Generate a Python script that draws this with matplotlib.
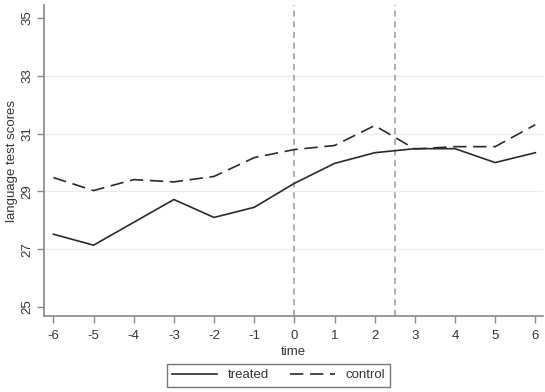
import matplotlib.pyplot as plt

plt.rcParams['font.family'] = ['Liberation Sans', 'DejaVu Sans']

# Mean language test scores by period relative to treatment
time = [-6, -5, -4, -3, -2, -1, 0, 1, 2, 3, 4, 5, 6]
treated = [27.52, 27.14, 27.93, 28.72, 28.10, 28.45, 29.28, 29.97, 30.34, 30.48, 30.48, 30.00, 30.34]
control = [29.48, 29.03, 29.41, 29.33, 29.52, 30.17, 30.45, 30.59, 31.28, 30.47, 30.55, 30.55, 31.31]
event_lines = [0, 2.5]
yticks = [25, 27, 29, 31, 33, 35]

fig = plt.figure(figsize=(5.45, 3.92), dpi=100)
ax = fig.add_axes([0.081, 0.194, 0.916, 0.793])

for y in yticks[1:-1]:
    ax.axhline(y, color='#ececec', lw=0.8, zorder=0)
for x in event_lines:
    ax.axvline(x, color='#999999', lw=1.1, ls=(0, (4, 3)), zorder=1)

ax.plot(time, treated, color='#2a2a2a', lw=1.2, label='treated', zorder=3)
ax.plot(time, control, color='#2a2a2a', lw=1.2, ls=(0, (8, 4)), label='control', zorder=3)

ax.set_xlim(-6.23, 6.2)
ax.set_ylim(24.69, 35.45)
ax.set_xticks(time)
ax.set_xticklabels([str(t) for t in time])
ax.set_yticks(yticks)
ax.set_yticklabels([str(y) for y in yticks], rotation=90, va='center')

for side in ['top', 'right']:
    ax.spines[side].set_visible(False)
for side in ['left', 'bottom']:
    ax.spines[side].set_color('#888888')
    ax.spines[side].set_linewidth(1.2)
ax.tick_params(colors='#888888', labelcolor='#333333', labelsize=9.5, length=5, width=1)
ax.tick_params(axis='x', pad=5)
ax.tick_params(axis='y', pad=3)

ax.set_xlabel('time', fontsize=9.5, color='#333333', labelpad=3)
ax.set_ylabel('language test scores', fontsize=9.5, color='#333333', labelpad=2)

leg = fig.legend(loc='center', bbox_to_anchor=(0.511, 0.043), ncol=2, fontsize=9.5,
                 frameon=True, fancybox=False, handlelength=3.4, columnspacing=1.6,
                 borderpad=0.4, handletextpad=0.8)
leg.get_frame().set_edgecolor('#555555')
leg.get_frame().set_linewidth(1.0)
for t in leg.get_texts():
    t.set_color('#333333')

fig.savefig('out.png', dpi=100)
